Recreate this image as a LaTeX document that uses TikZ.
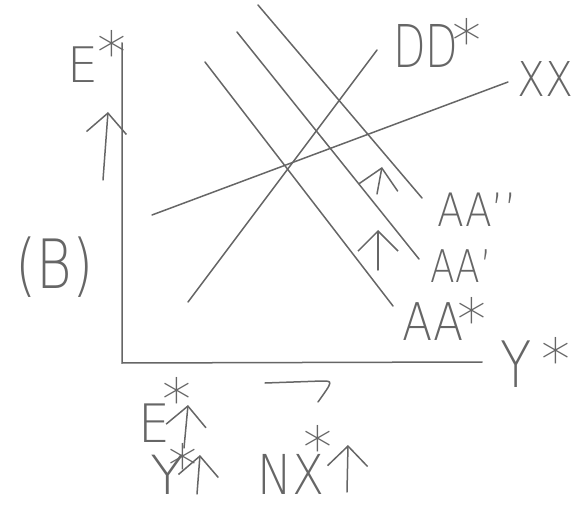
\documentclass[tikz,border=0pt]{standalone}
\usepackage{fontspec}
\usepackage{graphicx}
\newfontfamily\hand{DejaVu Sans ExtraLight}
\usetikzlibrary{arrows.meta}
\definecolor{pen}{HTML}{666666}
\newcommand{\hw}[3]{{\fontsize{#1}{#1}\hand\scalebox{#2}[1]{#3}}}
% letters, then a star placed #4 pt right of the start, raised #5 pt
\newcommand{\lab}[5]{\rlap{\hw{#1}{#2}{#3}}\hspace*{#4pt}\makebox[0pt]{\fontsize{58}{58}\hand\raisebox{#5pt}{*}}}
\begin{document}
\begin{tikzpicture}[x=1pt,y=-1pt,
  pencil/.style={draw=pen, line width=1.5pt, line cap=round},
  uparr/.style={pencil, -{Straight Barb[length=20pt,width=40pt]}},
  lbl/.style={text=pen, inner sep=0pt, anchor=base west}]
\useasboundingbox (0,0) rectangle (579,508);
% axes
\coordinate (yt) at (122,43);
\coordinate (o) at (122,363);
\coordinate (xr) at (482,362);
\draw[pencil] (yt) -- (o) -- (xr);
% curves
\coordinate (xx1) at (152,215); \coordinate (xx2) at (508,82);
\coordinate (dd1) at (188,302); \coordinate (dd2) at (377,50);
\coordinate (a01) at (205,62);  \coordinate (a02) at (393,306);
\coordinate (a11) at (237,32);  \coordinate (a12) at (419,259);
\coordinate (a21) at (258,5);   \coordinate (a22) at (422,198);
\draw[pencil] (xx1) -- (xx2);
\draw[pencil] (dd1) -- (dd2);
\draw[pencil] (a01) -- (a02);
\draw[pencil] (a11) -- (a12);
\draw[pencil] (a21) -- (a22);
% shift arrows
\coordinate (s1a) at (377,194); \coordinate (s1b) at (382,167);
\coordinate (s2a) at (378,270); \coordinate (s2b) at (378,230);
\draw[uparr] (s1a) -- (s1b);
\draw[uparr] (s2a) -- (s2b);
% left arrow
\coordinate (la) at (103,180); \coordinate (lb) at (108,112);
\draw[uparr] (la) -- (lb);
% labels
\node[lbl] (Elab) at (67,83) {\lab{49}{1.0}{E}{45}{9}};
\node[lbl] (Blab) at (15,288) {\hw{68}{0.8}{(B)}};
\node[lbl] (DDlab) at (393,68) {\lab{59}{0.72}{DD}{74}{6}};
\node[lbl] (XXlab) at (517,97) {\hw{48}{0.85}{XX}};
\node[lbl] (A2lab) at (437,227) {\hw{46}{0.85}{AA’’}};
\node[lbl] (A1lab) at (430,283) {\hw{45}{0.8}{AA’}};
\node[lbl] (A0lab) at (402,340) {\lab{52}{0.85}{AA}{70}{0}};
\node[lbl] (Ylab) at (500,387) {\lab{64}{0.8}{Y}{56}{7}};
% bottom
\coordinate (h1) at (265,383); \coordinate (h2) at (322,381); \coordinate (h3) at (318,402);
\draw[pencil] (h1) -- (h2) .. controls (333,381) .. (h3);
\node[lbl] (Eb) at (138,442) {\lab{53}{0.95}{E}{39}{22}};
\coordinate (eba) at (184,448); \coordinate (ebb) at (188,405);
\draw[uparr] (eba) -- (ebb);
\node[lbl] (Yb) at (150,494) {\lab{54}{1.05}{Y}{33}{8}};
\coordinate (yba) at (197,494); \coordinate (ybb) at (200,455);
\draw[uparr] (yba) -- (ybb);
\node[lbl] (NXb) at (257,494) {\lab{55}{0.85}{NX}{61}{26}};
\coordinate (nxa) at (347,492); \coordinate (nxb) at (348,445);
\draw[uparr] (nxa) -- (nxb);
\end{tikzpicture}
\end{document}
